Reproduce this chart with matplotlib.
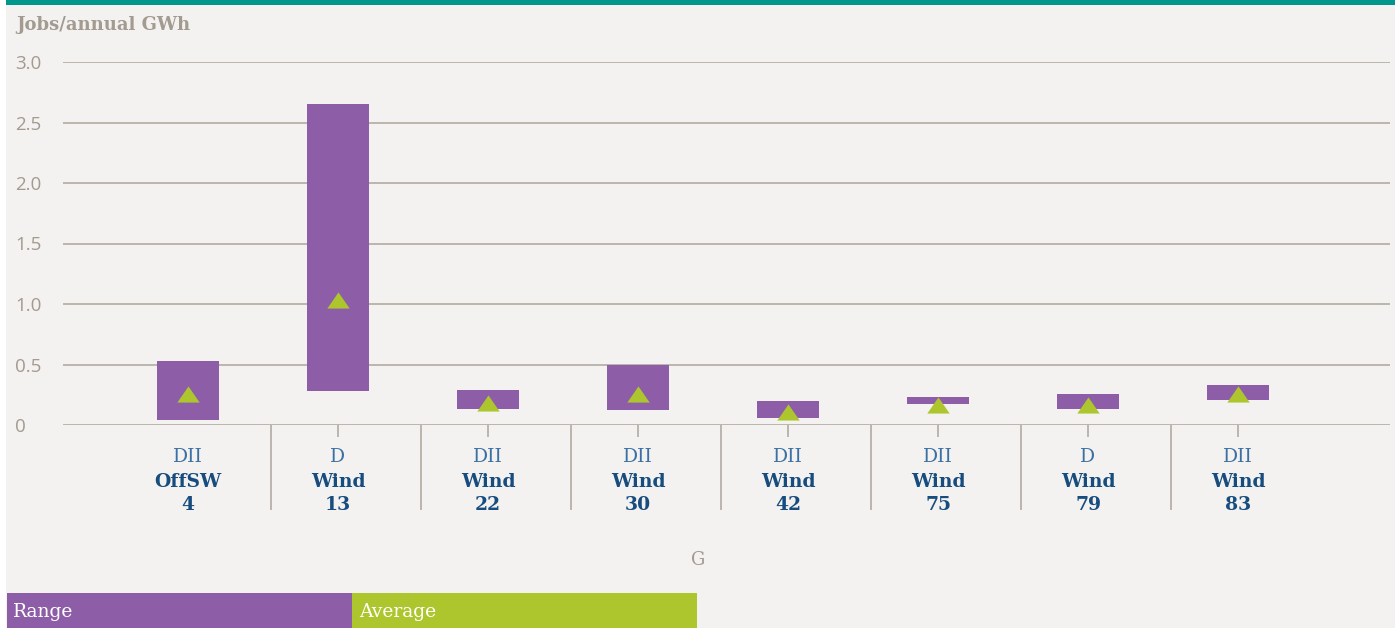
import matplotlib.pyplot as plt
from matplotlib.patches import Rectangle

# data
groups = ['DII', 'D', 'DII', 'DII', 'DII', 'DII', 'D', 'DII']
techs = ['OffSW', 'Wind', 'Wind', 'Wind', 'Wind', 'Wind', 'Wind', 'Wind']
ids = ['4', '13', '22', '30', '42', '75', '79', '83']
range_low = [0.04, 0.28, 0.13, 0.12, 0.06, 0.17, 0.135, 0.21]
range_high = [0.53, 2.65, 0.29, 0.50, 0.20, 0.23, 0.26, 0.33]
average = [0.26, 1.03, 0.185, 0.26, 0.11, 0.165, 0.165, 0.26]
yticks = [0, 0.5, 1.0, 1.5, 2.0, 2.5, 3.0]
ytick_labels = ['0', '0.5', '1.0', '1.5', '2.0', '2.5', '3.0']

purple = '#8d5ea7'
green = '#adc62d'
grid_c = '#b3aba1'
grey_txt = '#a39a90'
blue_lt = '#3a70a3'
blue_dk = '#174c7e'
bg = '#f3f2f0'
serif = ['DejaVu Serif']

W, H = 1395, 628
fig = plt.figure(figsize=(W / 100, H / 100), dpi=100, facecolor='white')

# background panel and teal top stripe
fig.patches.append(Rectangle((6 / W, 0), 1 - 6 / W, 1, transform=fig.transFigure,
                             facecolor=bg, edgecolor='none', zorder=-10))
fig.patches.append(Rectangle((6 / W, 1 - 5 / H), 1 - 6 / W, 5 / H, transform=fig.transFigure,
                             facecolor='#00968c', edgecolor='none', zorder=-5))

ax = fig.add_axes([63 / W, (H - 425) / H, 1327 / W, 363 / H])
ax.set_facecolor('none')
ax.set_xlim(-0.833, 8.013)
ax.set_ylim(0, 3.0)
for s in ax.spines.values():
    s.set_visible(False)

for y in yticks:
    ax.axhline(y, color=grid_c, lw=1.2, zorder=1)

x = list(range(len(ids)))
heights = [h - l for h, l in zip(range_high, range_low)]
ax.bar(x, heights, bottom=range_low, width=0.41, color=purple, zorder=3)

tri = [(-1, -0.72), (1, -0.72), (0, 0.72), (-1, -0.72)]
ax.scatter(x, average, marker=tri, s=260, color=green, linewidths=0, zorder=4)

ax.set_xticks([])
ax.set_yticks(yticks)
ax.set_yticklabels(ytick_labels, fontsize=13.5, color=grey_txt, family='Open Sans')
ax.tick_params(axis='y', length=0, pad=34.5)
for lab in ax.get_yticklabels():
    lab.set_horizontalalignment('left')

# separators and small ticks below the axis
trans = ax.get_xaxis_transform()
seps = [i + 0.555 for i in x[:-1]]
ax.vlines(seps, -85 / 363, 0, transform=trans, color=grid_c, lw=1.2, clip_on=False)
ax.vlines(x[1:], -12 / 363, 0, transform=trans, color=grid_c, lw=1.2, clip_on=False)

for xi, g, t, n in zip(x, groups, techs, ids):
    ax.annotate(g, (xi, 0), xytext=(0, -26.6), textcoords='offset points',
                ha='center', va='baseline', fontsize=13.5, color=blue_lt, family=serif)
    ax.annotate(t, (xi, 0), xytext=(0, -44.6), textcoords='offset points',
                ha='center', va='baseline', fontsize=13.5, fontweight='bold', color=blue_dk, family=serif)
    ax.annotate(n, (xi, 0), xytext=(0, -61.2), textcoords='offset points',
                ha='center', va='baseline', fontsize=13.5, fontweight='bold', color=blue_dk, family=serif)

fig.text(16 / W, 1 - 25 / H, 'Jobs/annual GWh', fontsize=13, fontweight='bold',
         color=grey_txt, family=serif, ha='left', va='center')
fig.text(698 / W, 1 - 560 / H, 'G', fontsize=13, color=grey_txt, family=serif,
         ha='center', va='center')

# legend strip
fig.patches.append(Rectangle((7 / W, 0), 345 / W, 35 / H, transform=fig.transFigure,
                             facecolor=purple, edgecolor='none'))
fig.patches.append(Rectangle((352 / W, 0), 345 / W, 35 / H, transform=fig.transFigure,
                             facecolor=green, edgecolor='none'))
fig.text(13 / W, 1 - 612 / H, 'Range', fontsize=13.5, color='white', family=serif,
         ha='left', va='center')
fig.text(359 / W, 1 - 612 / H, 'Average', fontsize=13.5, color='white', family=serif,
         ha='left', va='center')

fig.savefig('out.png', dpi=100, facecolor=fig.get_facecolor())
